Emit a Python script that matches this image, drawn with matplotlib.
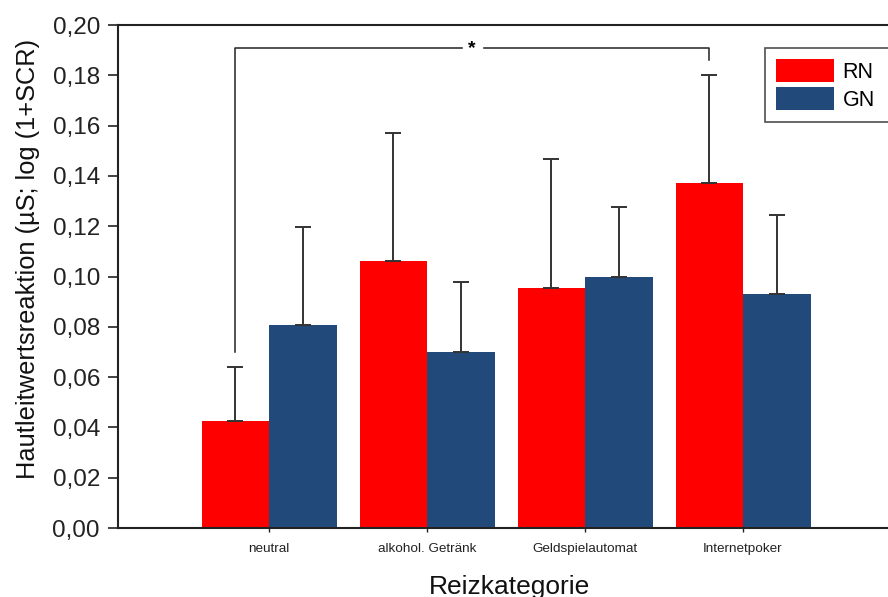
import matplotlib
matplotlib.use("Agg")
import matplotlib.pyplot as plt
import numpy as np
from matplotlib.ticker import FuncFormatter

plt.rcParams['font.family'] = ['Liberation Sans', 'DejaVu Sans']

categories = ["neutral", "alkohol. Getränk", "Geldspielautomat", "Internetpoker"]
rn_values = [0.0425, 0.1060, 0.0953, 0.1372]
rn_err = [0.0215, 0.0512, 0.0515, 0.0428]
gn_values = [0.0807, 0.0700, 0.0998, 0.0930]
gn_err = [0.0391, 0.0280, 0.0280, 0.0313]
yticks = [0.00, 0.02, 0.04, 0.06, 0.08, 0.10, 0.12, 0.14, 0.16, 0.18, 0.20]

red = "#ff0000"
blue = "#214a7b"

W, H = 888, 597
fig = plt.figure(figsize=(W / 100, H / 100), dpi=100)
left_px, right_px, top_px, bot_px = 118, 900, 25, 528
ax = fig.add_axes([left_px / W, 1 - bot_px / H, (right_px - left_px) / W, (bot_px - top_px) / H])

x = np.arange(len(categories))
px_per = 158.0
bw = 67.5 / px_per
ax.set_xlim(-(269 - left_px) / px_per, (right_px - 269) / px_per)
ax.set_ylim(0, 0.20)

ax.bar(x - bw / 2, rn_values, bw, color=red, label="RN", zorder=2)
ax.bar(x + bw / 2, gn_values, bw, color=blue, label="GN", zorder=2)
ekw = dict(fmt="none", ecolor="#333333", elinewidth=1.4, capsize=6, capthick=1.4, zorder=3)
ax.errorbar(x - bw / 2, rn_values, yerr=[np.zeros(4), rn_err], **ekw)
ax.errorbar(x + bw / 2, gn_values, yerr=[np.zeros(4), gn_err], **ekw)

# significance bracket neutral RN vs Internetpoker RN
x1, x2 = x[0] - bw / 2, x[3] - bw / 2
yb = 0.1908
ax.plot([x1, x1, x2, x2], [0.0700, yb, yb, 0.1862], color="#222222", lw=1.1, zorder=3)
ax.text((x1 + x2) / 2, yb, "*", ha="center", va="center", fontsize=14,
        fontweight="bold", backgroundcolor="white", zorder=4)

for s in ["left", "top", "bottom"]:
    ax.spines[s].set_linewidth(1.5)
    ax.spines[s].set_color("#222222")
ax.spines["right"].set_visible(False)

ax.set_yticks(yticks)
ax.yaxis.set_major_formatter(FuncFormatter(lambda v, p: f"{v:.2f}".replace(".", ",")))
ax.tick_params(axis="y", length=7, width=1.2, pad=6, labelsize=17.5, colors="#222222")
ax.set_xticks(x)
ax.set_xticklabels(categories)
ax.tick_params(axis="x", length=3, width=1.0, pad=8, labelsize=9.7, colors="#222222")

ax.set_ylabel("Hautleitwertsreaktion (µS; log (1+SCR)", fontsize=18.3, color="#111111")
ax.yaxis.set_label_coords((40 - left_px) / (right_px - left_px), (bot_px - 259) / (bot_px - top_px))
ax.set_xlabel("Reizkategorie", fontsize=19, labelpad=14, color="#111111")

leg = ax.legend(loc="upper left",
                bbox_to_anchor=(765 / W, 1 - 48 / H, (900 - 765) / W, 0.0),
                bbox_transform=fig.transFigure, mode="expand",
                fancybox=False, frameon=True, edgecolor="#222222", fontsize=15.5,
                handlelength=2.7, handleheight=1.3, handletextpad=0.4,
                borderpad=0.5, labelspacing=0.2, borderaxespad=0)
leg.get_frame().set_linewidth(1.2)

fig.savefig("out.png", dpi=100)
